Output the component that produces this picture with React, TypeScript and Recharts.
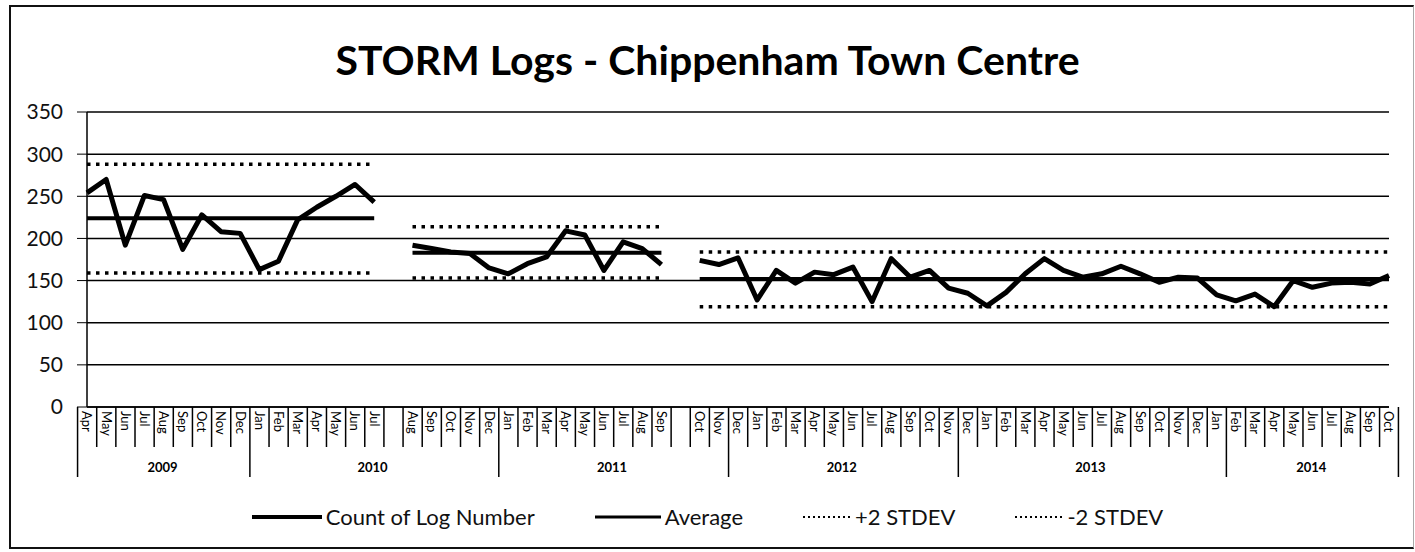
import React from 'react';
import { ComposedChart, Line, XAxis, YAxis, CartesianGrid } from 'recharts';

// month labels along the axis ('' = empty category between the control periods)
const months = [
  'Apr', 'May', 'Jun', 'Jul', 'Aug', 'Sep', 'Oct', 'Nov', 'Dec',
  'Jan', 'Feb', 'Mar', 'Apr', 'May', 'Jun', 'Jul', '', 'Aug', 'Sep', 'Oct', 'Nov', 'Dec',
  'Jan', 'Feb', 'Mar', 'Apr', 'May', 'Jun', 'Jul', 'Aug', 'Sep', '', 'Oct', 'Nov',
  'Dec', 'Jan', 'Feb', 'Mar', 'Apr', 'May', 'Jun', 'Jul', 'Aug', 'Sep', 'Oct', 'Nov',
  'Dec', 'Jan', 'Feb', 'Mar', 'Apr', 'May', 'Jun', 'Jul', 'Aug', 'Sep', 'Oct', 'Nov', 'Dec', 'Jan',
  'Feb', 'Mar', 'Apr', 'May', 'Jun', 'Jul', 'Aug', 'Sep', 'Oct',
];

const counts: (number | null)[] = [
  254, 270, 192, 251, 246, 187, 228, 208, 206,
  163, 173, 222, 237, 250, 264, 243, null, 192, 188, 184, 182, 165,
  158, 170, 178, 209, 204, 162, 196, 188, 169, null, 174, 169,
  177, 127, 162, 147, 160, 157, 166, 125, 176, 154, 162, 141,
  135, 120, 136, 158, 176, 162, 154, 158, 167, 158, 148, 154, 153, 133,
  126, 134, 119, 150, 142, 147, 148, 146, 156,
];

const yearLabels = ['2009', '2010', '2011', '2012', '2013', '2014'];
const yearSizes = [9, 13, 12, 12, 14, 9];

// control periods: first and last category index, mean and +/-2 sd
const segStart = [0, 17, 32];
const segEnd = [15, 30, 68];
const segAverage = [224, 183, 152];
const segPlus2 = [288, 214, 184];
const segMinus2 = [159, 153, 119];

const yTicks = [0, 50, 100, 150, 200, 250, 300, 350];

const data = months.map((m, i) => {
  const s = segStart.findIndex((st, k) => i >= st && i <= segEnd[k]);
  return {
    key: String(i),
    month: m,
    count: counts[i],
    avg: s >= 0 ? segAverage[s] : null,
    plus2: s >= 0 ? segPlus2[s] : null,
    minus2: s >= 0 ? segMinus2[s] : null,
  };
});

const W = 1415;
const H = 552;
const Y_W = 87;
const MARGIN = { top: 112, right: 26, bottom: 65, left: 0 };
const STEP = (W - MARGIN.left - MARGIN.right - Y_W) / months.length;
const FONT = 'Lato, "Open Sans", sans-serif';

const yearStarts = yearSizes.map((_, k) => yearSizes.slice(0, k).reduce((a, b) => a + b, 0));

function MonthTick(props: any) {
  const { x, y, payload } = props;
  const i = payload.index;
  const left = x - STEP / 2;
  const yk = yearStarts.indexOf(i);
  const last = i === months.length - 1;
  return (
    <g>
      <line x1={left} y1={y} x2={left} y2={y + (yk >= 0 ? 70 : 40)} stroke="#000" strokeWidth={1.5} />
      {last && <line x1={x + STEP / 2} y1={y} x2={x + STEP / 2} y2={y + 70} stroke="#000" strokeWidth={1.5} />}
      <text
        transform={`translate(${x},${y + 4}) rotate(90)`}
        dy="0.35em"
        fontSize={13}
        fontFamily={FONT}
        fill="#000"
      >
        {months[i]}
      </text>
      {yk >= 0 && (
        <text
          x={left + (yearSizes[yk] * STEP) / 2}
          y={y + 65}
          textAnchor="middle"
          fontSize={13}
          fontWeight="bold"
          fontFamily={FONT}
          fill="#000"
        >
          {yearLabels[yk]}
        </text>
      )}
    </g>
  );
}

const legendItems = [
  { label: 'Count of Log Number', width: 4, dash: undefined as string | undefined, len: 70 },
  { label: 'Average', width: 3, dash: undefined as string | undefined, len: 66 },
  { label: '+2 STDEV', width: 2, dash: '2 3', len: 48 },
  { label: '-2 STDEV', width: 2, dash: '2 3', len: 48 },
];

export default function App() {
  return (
    <div style={{ position: 'absolute', left: 0, top: 0, width: W, height: H, background: '#fff', fontFamily: FONT }}>
      <div
        style={{
          position: 'absolute',
          left: 9,
          top: 5,
          width: 1402,
          height: 540,
          borderTop: '2px solid #111',
          borderLeft: '2px solid #111',
          borderBottom: '2px solid #111',
          borderRight: '1px solid #aaa',
        }}
      />
      <div
        style={{
          position: 'absolute',
          left: 0,
          width: W,
          top: 36,
          textAlign: 'center',
          fontSize: 41,
          fontWeight: 'bold',
          color: '#000',
          lineHeight: '48px',
        }}
      >
        STORM Logs - Chippenham Town Centre
      </div>
      <div style={{ position: 'absolute', left: 0, top: 0 }}>
        <ComposedChart width={W} height={H} data={data} margin={MARGIN}>
          <CartesianGrid vertical={false} stroke="#000" strokeWidth={1.5} />
          <XAxis
            dataKey="key"
            interval={0}
            tickLine={false}
            tickSize={0}
            tickMargin={0}
            height={80}
            axisLine={{ stroke: '#000', strokeWidth: 1.5 }}
            tick={<MonthTick />}
          />
          <YAxis
            width={Y_W}
            domain={[0, 350]}
            ticks={yTicks}
            tickSize={10}
            tickMargin={14}
            axisLine={{ stroke: '#000', strokeWidth: 1.5 }}
            tickLine={{ stroke: '#000' }}
            tick={{ fontSize: 21, fill: '#111', fontFamily: FONT }}
          />
          <YAxis
            yAxisId="right"
            orientation="right"
            width={0}
            domain={[0, 350]}
            tick={false}
            tickLine={false}
            axisLine={{ stroke: '#000', strokeWidth: 1.5 }}
          />
          <Line dataKey="plus2" stroke="#000" strokeWidth={3.5} strokeDasharray="3.5 5.5" dot={false} isAnimationActive={false} />
          <Line dataKey="minus2" stroke="#000" strokeWidth={3.5} strokeDasharray="3.5 5.5" dot={false} isAnimationActive={false} />
          <Line dataKey="avg" stroke="#000" strokeWidth={4} dot={false} isAnimationActive={false} />
          <Line
            dataKey="count"
            stroke="#000"
            strokeWidth={5}
            strokeLinejoin="round"
            dot={false}
            isAnimationActive={false}
          />
        </ComposedChart>
      </div>
      <div
        style={{
          position: 'absolute',
          left: 0,
          width: W,
          top: 503,
          display: 'flex',
          justifyContent: 'center',
          alignItems: 'center',
          gap: 60,
          fontSize: 22,
          color: '#111',
        }}
      >
        {legendItems.map((it) => (
          <div key={it.label} style={{ display: 'flex', alignItems: 'center' }}>
            <svg width={it.len} height={10} style={{ marginRight: 4 }}>
              <line x1={0} y1={5} x2={it.len} y2={5} stroke="#000" strokeWidth={it.width} strokeDasharray={it.dash} />
            </svg>
            <span>{it.label}</span>
          </div>
        ))}
      </div>
    </div>
  );
}
